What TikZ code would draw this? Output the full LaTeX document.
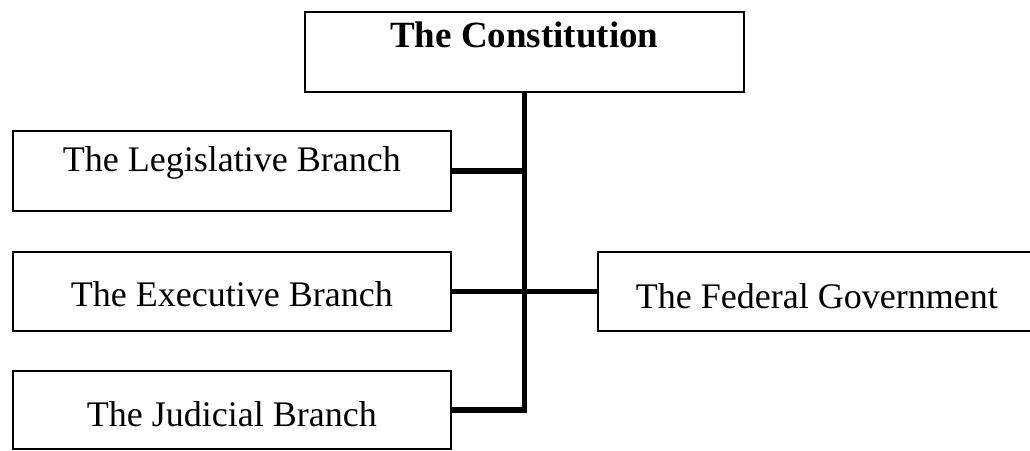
\documentclass[tikz,border=0pt]{standalone}
\usepackage{fontspec}
\setmainfont{Liberation Serif}
\tikzstyle{every node}=[draw=black,line width=1.8pt,anchor=north west,inner sep=0pt,font=\fontsize{36}{40}\selectfont]
\tikzstyle{branch}=[line width=5.5pt]

\begin{document}
\begin{tikzpicture}[x=1pt,y=-1pt]
          \useasboundingbox (0,0) rectangle (1030,450);
          \node (const) at (304,11) [minimum width=439pt,text height=36pt,text depth=44pt,font=\fontsize{37}{40}\selectfont\bfseries] {The Constitution};
          \node (leg) at (12,130) [minimum width=438pt,text height=41pt,text depth=39pt] {The Legislative Branch};
          \node (exec) at (12,251) [minimum width=438pt,text height=55pt,text depth=24pt] {The Executive Branch};
          \node (jud) at (12,370) [minimum width=438pt,text height=56pt,text depth=22pt] {The Judicial Branch};
          \node (fed) at (597,251) [minimum width=450pt,text height=57pt,text depth=22pt] {\hspace*{-12pt}The Federal Government};

          \draw[branch] (const.south) |- (jud.east);
          \draw[branch] (leg.east) -- (leg.east -| const.south);
          \draw[branch] (exec.east) -- (fed.west);
        \end{tikzpicture}
\end{document}
